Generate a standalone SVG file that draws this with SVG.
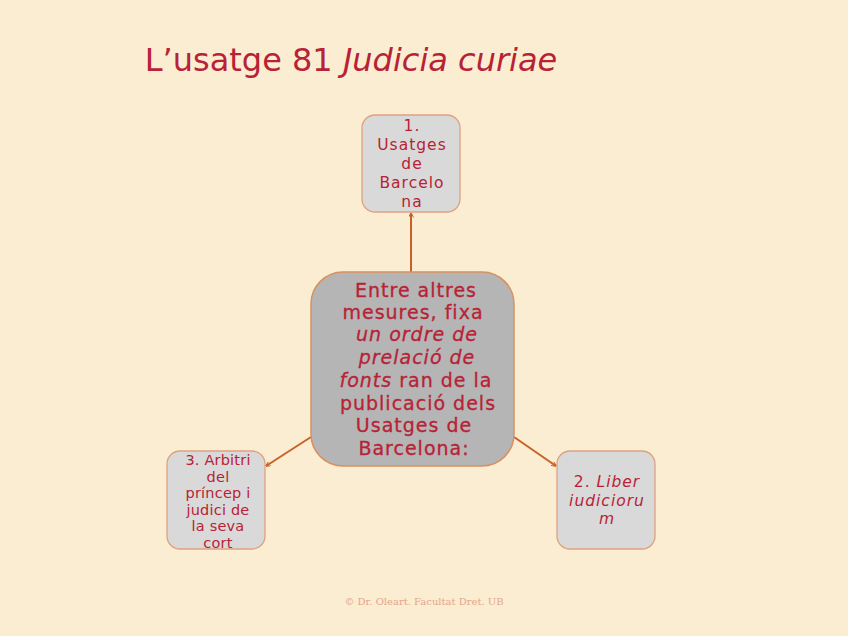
<svg xmlns="http://www.w3.org/2000/svg" width="848" height="636" viewBox="0 0 848 636">
<style>
text{font-family:"DejaVu Sans","Liberation Sans",sans-serif;fill:#b82236;text-anchor:middle}
.sm{fill:#d9d9d9;stroke:#e0a080;stroke-width:1.3}
.big{fill:#b5b5b5;stroke:#d8905f;stroke-width:1.5}
.c{stroke:#c8622a;stroke-width:2;fill:none;marker-end:url(#ah)}
.s15{font-size:15.5px;letter-spacing:1px}
.s14{font-size:14.5px;letter-spacing:0.2px}
.s19{font-size:19px;letter-spacing:1px;stroke:#b82236;stroke-width:0.3}
</style>
<defs>
<marker id="ah" viewBox="0 0 10 10" refX="9" refY="5" markerWidth="5" markerHeight="5" orient="auto" markerUnits="userSpaceOnUse">
<path d="M0,0 L10,5 L0,10" fill="none" stroke="#c8622a" stroke-width="2"/>
</marker>
</defs>
<rect width="848" height="636" fill="#fbedd1"/>
<text x="351" y="71" style="font-size:32px;text-anchor:middle">L’usatge 81 <tspan font-style="italic">Judicia curiae</tspan></text>
<g id="connectors">
<line class="c" x1="411" y1="272" x2="411" y2="213"/>
<line class="c" x1="311" y1="437" x2="266" y2="466"/>
<line class="c" x1="514" y1="437" x2="556" y2="466"/>
</g>
<g id="n1">
<rect class="sm" x="362" y="115" width="98" height="97" rx="13"/>
<text class="s15"><tspan x="412" y="131">1.</tspan><tspan x="412" y="150">Usatges</tspan><tspan x="412" y="169">de</tspan><tspan x="412" y="188">Barcelo</tspan><tspan x="412" y="207">na</tspan></text>
</g>
<g id="center">
<rect class="big" x="311" y="272" width="203" height="194" rx="32"/>
<text class="s19"><tspan x="416" y="297">Entre altres</tspan><tspan x="413" y="319">mesures, fixa</tspan><tspan x="417" y="341" font-style="italic">un ordre de</tspan><tspan x="417" y="364" font-style="italic">prelació de</tspan><tspan x="416" y="387"><tspan font-style="italic">fonts</tspan> ran de la</tspan><tspan x="418" y="410">publicació dels</tspan><tspan x="414" y="432">Usatges de</tspan><tspan x="414" y="455">Barcelona:</tspan></text>
</g>
<g id="n3">
<rect class="sm" x="167" y="451" width="98" height="98" rx="13"/>
<text class="s14"><tspan x="218" y="465">3. Arbitri</tspan><tspan x="218" y="481.5">del</tspan><tspan x="218" y="498">príncep i</tspan><tspan x="218" y="514.5">judici de</tspan><tspan x="218" y="531">la seva</tspan><tspan x="218" y="547.5">cort</tspan></text>
</g>
<g id="n2">
<rect class="sm" x="557" y="451" width="98" height="98" rx="13"/>
<text class="s15"><tspan x="607" y="487">2. <tspan font-style="italic">Liber</tspan></tspan><tspan x="607" y="505.5" font-style="italic">iudicioru</tspan><tspan x="607" y="524" font-style="italic">m</tspan></text>
</g>
<text x="424" y="605" style="font-family:'DejaVu Serif','Liberation Serif',serif;font-size:10px;fill:#e3a48f">© Dr. Oleart. Facultat Dret. UB</text>
</svg>
